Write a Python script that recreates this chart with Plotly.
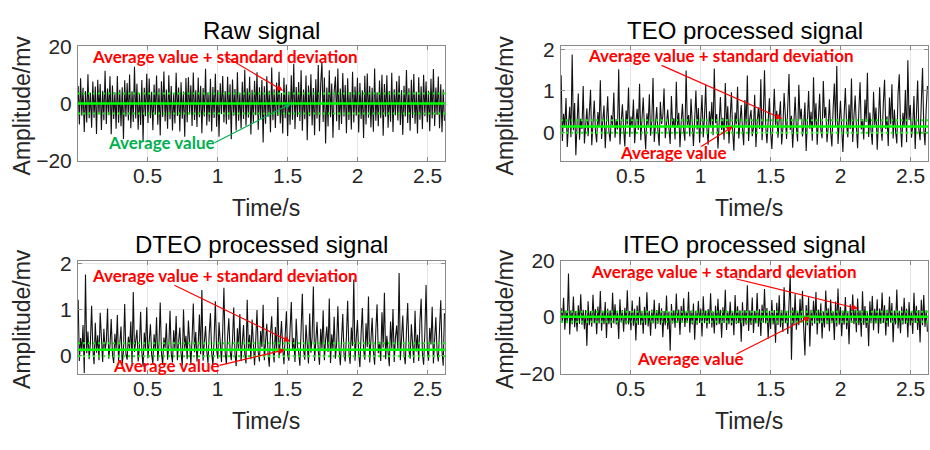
import numpy as np
import plotly.graph_objects as go
from plotly.subplots import make_subplots

# ---------------- data (mV) ----------------
raw_mv = [
    6.1, -7.3, 8.8, -4.2, 5.5, -9.9, 4.4, -6.6, 10.2, -5.1, 3.8, -8.4, 7.7, -4.9, 5.9, -10.6, 8.3, -3.7, 6.8, -9.2,
    4.5, -5.8, 11.4, -7.1, 5.2, -4.1, 9.5, -10.7, 6.3, -5.4, 3.9, -8.8, 9.6, -6.7, 4.8, -7.9, 5.7, -12.3, 8.1, -4.6,
    7.2, -5.9, 10.1, -8.6, 4.3, -6.4, 12.8, -5.2, 6.9, -9.1, 3.6, -7.5, 8.2, -13.1, 5.5, -4.4, 10.4, -6.8, 8.7, -5.1,
    4.1, -9.3, 6.6, -3.9, 9.8, -7.4, 5.3, -11.1, 7.8, -4.7, 11.2, -6.2, 4.9, -8.8, 9.9, -5.5, 6.1, -9.4, 3.7, -6.9,
    10.7, -4.3, 5.6, -9.7, 7.4, -5.3, 4.2, -11.6, 8.9, -6.5, 9.2, -3.8, 6.4, -7.8, 10.8, -5.7, 4.6, -8.2, 9.1, -4.8,
    6.2, -10.3, 5.4, -4.5, 12.1, -7.6, 3.9, -6.3, 8.6, -9.7, 5.8, -5.0, 10.4, -8.1, 4.7, -11.6, 7.1, -3.6, 9.6, -6.6,
    4.4, -7.2, 9.3, -5.6, 6.7, -12.4, 8.4, -4.2, 5.1, -9.4, 10.9, -6.0, 3.8, -8.7, 7.6, -5.4, 11.8, -7.7, 5.3, -4.9,
    9.3, -10.8, 4.8, -6.7, 7.9, -4.1, 10.9, -9.1, 5.7, -5.3, 8.2, -13.6, 6.0, -7.0, 9.5, -4.6, 4.5, -10.0, 12.6, -5.8,
    5.0, -8.5, 7.3, -4.3, 11.1, -6.9, 3.7, -10.4, 9.0, -5.1, 6.6, -11.3, 4.2, -7.4, 9.9, -5.6, 13.9, -8.9, 5.8, -4.7,
    7.5, -6.1, 11.6, -9.5, 4.9, -5.5, 9.8, -12.8, 6.3, -4.4, 10.2, -7.6, 5.4, -11.0, 8.5, -5.2, 13.4, -9.6, 6.9, 14.6,
    -6.4, 9.1, -13.9, 5.6, -8.0, 11.6, -4.8, 7.0, -11.9, 4.3, 9.4, -6.2, 12.2, -9.2, 5.2, -7.1, 10.6, -4.5, 6.5, -10.3,
    8.8, -5.7, 4.0, -9.0, 11.1, -6.6, 5.9, -4.2, 9.0, -10.1, 7.2, -5.4, 4.6, -12.0, 9.7, -7.3, 10.5, -4.9, 6.1, -8.3,
    5.5, -9.8, 12.2, -6.0, 3.9, -7.9, 8.0, -5.1, 10.0, -11.2, 6.8, -4.6, 9.9, -8.4, 4.4, -6.3, 10.7, -9.9, 5.0, -4.1,
    7.8, -5.9, 9.7, -7.5, 4.7, -10.9, 6.2, -4.5, 11.7, -6.8, 5.3, -9.5, 8.3, -5.0, 10.3, -7.0, 4.1, -10.4, 9.2, -5.6,
    6.0, -8.9, 10.0, -4.4, 7.7, -6.5, 4.5, -9.6, 8.6, -5.2, 12.0, -7.8, 5.6, -4.0, 9.4, -8.6, 6.7, -10.0, 4.9, -6.0,
]

teo_mv = [
    1.38, -0.21, 0.45, 0.12, 0.83, -0.35, 0.18, 0.62, -0.12, 1.88, 0.05, 0.71, -0.55, 0.26, 0.94, -0.18, 0.33, 0.08, 1.12, -0.27,
    0.15, 0.58, -0.09, 0.36, 1.03, -0.31, 0.21, 0.77, 0.04, -0.24, 0.49, 0.13, 1.26, -0.16, 0.29, 0.65, -0.38, 0.11, 0.87, 0.02,
    -0.22, 0.41, 0.17, 0.96, -0.13, 0.32, 0.07, 1.52, -0.29, 0.24, 0.68, 0.09, -0.34, 0.53, 0.19, 1.08, -0.11, 0.38, 0.14, 0.79,
    -0.26, 0.22, 0.57, 0.06, 1.17, -0.19, 0.31, 0.84, 0.10, -0.41, 0.46, 0.16, 0.92, -0.08, 0.27, 1.31, -0.23, 0.12, 0.61, 0.03,
    -0.32, 0.74, 0.20, 0.39, 1.06, -0.14, 0.25, 0.55, 0.08, -0.28, 0.88, 0.15, 0.34, -0.17, 1.22, 0.11, 0.47, -0.36, 0.23, 0.69,
    0.05, -0.20, 1.49, 0.18, 0.42, -0.10, 0.81, 0.13, -0.33, 0.30, 1.01, 0.07, 0.59, -0.25, 0.20, 0.90, -0.12, 0.36, 1.14, 0.09,
    -0.30, 0.51, 0.16, 0.73, -0.07, 1.54, 0.22, 0.44, -0.39, 0.14, 0.85, 0.06, 0.35, -0.18, 1.19, 0.10, 0.63, -0.27, 0.28, 0.97,
    0.04, -0.44, 0.48, 0.19, 1.10, -0.15, 0.26, 0.66, 0.09, -0.31, 0.78, 0.17, 1.37, -0.21, 0.33, 0.54, -0.09, 0.12, 0.91, -0.35,
    0.24, 0.60, 0.08, 1.28, -0.19, 0.37, 1.50, 0.14, -0.26, 0.45, 0.82, 0.03, -0.40, 0.29, 1.05, 0.18, 0.52, -0.13, 0.21, 0.75,
    -0.29, 0.11, 0.95, 0.27, -0.16, 0.64, 1.41, 0.06, 0.40, -0.37, 0.23, 0.86, 0.12, -0.22, 1.15, 0.31, 0.57, -0.10, 0.19, 0.72,
    -0.45, 0.28, 1.00, 0.09, 0.50, -0.20, 1.33, 0.15, 0.70, -0.30, 0.22, 0.93, 0.05, -0.14, 1.24, 0.35, 0.61, -0.24, 0.13, 0.80,
    0.02, -0.34, 0.56, 1.18, 0.16, 1.60, -0.28, 0.30, 0.76, 0.10, -0.47, 0.43, 1.07, 0.20, -0.12, 0.67, 0.08, 1.30, -0.23, 0.37,
    0.89, 0.14, -0.38, 0.52, 1.21, 0.07, 0.32, -0.17, 0.79, 0.25, 1.44, -0.11, 0.48, 0.04, -0.30, 0.98, 0.18, 0.60, -0.42, 0.26,
    1.09, 0.12, -0.20, 0.71, 1.27, 0.08, 0.39, -0.33, 0.84, 0.19, 1.16, -0.15, 0.55, 0.03, -0.27, 0.92, 1.40, 0.21, -0.36, 0.47,
    0.13, 1.02, -0.24, 1.74, 0.30, 0.66, -0.13, 0.17, 0.88, -0.40, 0.42, 1.25, 0.06, -0.19, 0.73, 1.55, 0.10, -0.31, 0.58, 1.12,
]

dteo_mv = [
    1.21, -0.12, 0.38, 0.09, 0.66, -0.38, 1.76, 0.05, 0.52, -0.08, 0.27, 1.08, 0.14, -0.19, 0.71, 0.06, 0.44, -0.10, 0.93, 0.17,
    -0.14, 0.58, 0.11, 0.31, 1.02, -0.07, 0.22, 0.79, 0.04, -0.16, 0.47, 0.12, 0.88, -0.11, 0.26, 0.63, -0.21, 0.10, 1.12, 0.03,
    -0.09, 0.41, 0.15, 0.74, -0.18, 1.38, 0.08, 0.29, 0.56, -0.13, 0.19, 0.95, 0.07, -0.24, 0.50, 0.13, 1.05, -0.06, 0.34, 0.68,
    0.02, -0.17, 0.46, 0.10, 0.83, -0.12, 0.25, 1.15, 0.06, -0.20, 0.39, 0.16, 0.70, -0.09, 0.21, 0.97, 0.04, -0.15, 0.55, 0.12,
    0.86, -0.10, 0.30, 0.61, 0.05, -0.22, 1.00, 0.14, 0.43, -0.08, 0.76, 0.09, -0.18, 0.35, 1.13, 0.07, 0.51, -0.13, 0.24, 0.89,
    0.03, 1.42, -0.11, 0.28, 0.64, 0.10, -0.16, 0.48, 0.92, 0.06, -0.20, 0.37, 1.18, 0.13, -0.07, 0.72, 0.20, -0.14, 0.54, 1.47,
    0.08, -0.19, 0.42, 0.81, 0.11, -0.10, 0.33, 1.04, 0.05, -0.23, 0.59, 0.15, 0.90, -0.12, 0.27, 0.66, 0.04, -0.17, 1.21, 0.10,
    0.45, -0.08, 0.78, 0.14, -0.21, 0.36, 0.99, 0.07, -0.13, 0.53, 0.18, 1.10, -0.10, 0.30, 0.69, 0.05, -0.24, 0.47, 0.85, 0.12,
    -0.15, 0.62, 0.09, 1.27, -0.06, 0.32, 0.75, 0.16, -0.19, 0.44, 0.96, 0.03, -0.11, 0.57, 1.16, 0.10, 0.38, -0.14, 0.80, 0.20,
    0.07, -0.22, 0.50, 1.34, 0.13, -0.09, 0.67, 0.25, -0.17, 0.91, 0.06, 0.40, 1.50, -0.12, 0.29, 0.73, 0.11, -0.20, 0.58, 0.15,
    0.98, -0.10, 0.35, 0.63, 0.08, 1.24, -0.16, 0.46, 0.12, 0.84, -0.07, 0.26, 1.07, 0.14, -0.21, 0.55, 0.90, 0.04, -0.13, 0.42,
    1.19, 0.09, -0.18, 0.61, 0.21, 1.65, -0.11, 0.37, 0.77, 0.06, -0.25, 0.49, 1.03, 0.13, -0.09, 0.70, 0.18, 1.28, -0.15, 0.33,
    0.82, 0.10, -0.20, 0.56, 1.11, 0.05, 0.30, -0.12, 0.94, 0.17, 1.36, -0.08, 0.43, 0.08, -0.23, 0.74, 0.15, 1.01, -0.14, 0.39,
    0.65, 0.11, 1.79, -0.10, 0.28, 0.87, 0.04, -0.19, 0.52, 1.14, 0.12, -0.07, 0.68, 0.20, -0.16, 0.97, 0.09, 0.45, -0.12, 0.76,
    1.23, 0.06, -0.20, 0.48, 1.53, 0.14, -0.11, 0.60, 0.24, 1.06, -0.17, 0.35, 0.83, 0.07, -0.13, 0.58, 1.20, 0.10, -0.22, 0.92,
]

iteo_mv = [
    3.2, -2.1, 6.8, -4.5, 2.3, -2.2, 15.4, -6.2, 2.4, -2.5, 7.3, -3.6, 2.1, -5.1, 4.2, -2.4, 8.1, -2.7, 2.6, -4.3,
    2.5, -10.2, 5.6, -2.9, 2.0, -3.4, 7.9, -2.2, 2.8, -6.1, 3.7, -2.3, 9.2, -4.8, 2.2, -2.5, 5.3, -7.4, 2.9, -2.5,
    2.4, -3.9, 8.6, -2.3, 4.5, -2.6, 2.2, -7.8, 6.3, -1.9, 2.5, -5.2, 3.3, -2.6, 9.5, -2.6, 2.1, -4.7, 5.9, -3.1,
    2.9, -8.3, 4.1, -2.8, 7.2, -2.8, 1.9, -5.9, 3.6, -2.8, 8.8, -3.3, 2.2, -6.6, 2.7, -2.3, 6.1, -4.1, 2.5, -2.4,
    5.0, -2.7, 3.1, -7.1, 2.1, -2.9, 7.6, -4.4, 2.0, -11.9, 4.6, -2.3, 2.4, -3.8, 8.3, -2.1, 2.7, -6.3, 3.9, -2.0,
    6.7, -3.5, 2.0, -2.0, 9.0, -5.5, 2.3, -2.6, 4.8, -8.0, 2.2, -2.7, 5.7, -2.1, 3.0, -6.9, 7.4, -2.2, 2.3, -4.0,
    2.8, -2.4, 8.4, -3.7, 2.0, -5.8, 4.0, -2.9, 6.5, -2.5, 2.6, -7.3, 3.5, -2.1, 9.7, -4.6, 2.1, -2.5, 5.4, -3.0,
    2.1, -6.4, 7.8, -2.4, 3.8, -2.2, 2.4, -8.7, 5.2, -3.2, 2.5, -2.7, 11.3, -4.9, 2.4, -2.8, 6.9, -5.6, 2.2, -2.3,
    8.5, -3.4, 2.8, -6.7, 4.4, -2.0, 9.9, -2.3, 3.2, -7.7, 2.2, -4.2, 6.0, -2.6, 2.5, -9.1, 5.1, -2.8, 7.7, -3.6,
    2.4, -5.3, 10.6, -2.2, 2.1, -6.0, 4.7, 15.2, -15.1, 3.4, -2.6, 8.2, -4.5, 2.2, -2.9, 6.4, -2.1, 9.3, -3.8, -13.6,
    4.3, -2.9, 7.0, -10.4, 2.6, -3.1, 5.8, -2.4, 8.9, -6.2, 2.7, -2.3, 4.9, -7.6, 2.0, -3.7, 9.4, -2.5, 3.1, -5.0,
    6.2, -2.2, 2.0, -8.1, 5.5, -3.3, 10.1, -2.7, 3.6, -6.8, 2.3, -2.7, 7.1, -4.3, 2.1, -9.6, 4.5, -2.0, 8.0, -2.5,
    2.7, -5.4, 6.6, -2.9, 2.4, -7.0, 9.1, -2.8, 3.9, -3.9, 2.1, -10.3, 5.6, -2.2, 7.5, -4.7, 2.9, -2.3, 6.3, -5.8,
    3.0, -2.4, 8.7, -2.1, 4.2, -6.5, 2.6, -3.4, 7.3, -2.0, 5.0, -8.9, 2.3, -2.6, 9.8, -4.0, 2.2, -5.7, 3.7, -2.6,
    6.8, -2.4, 2.9, -7.2, 5.3, -3.0, 2.0, -6.0, 8.6, -2.1, 4.0, -4.6, 2.5, -9.0, 6.1, -2.9, 7.8, -3.5, 2.4, -5.2,
]

# mean and standard deviation of each signal (mV)
raw_stats = (0.0, 3.5)
teo_stats = (0.14, 0.15)
dteo_stats = (0.125, 0.14)
iteo_stats = (0.1, 1.8)

titles = ["Raw signal", "TEO processed signal", "DTEO processed signal", "ITEO processed signal"]
x_ticks = [0.5, 1, 1.5, 2, 2.5]
y_ticks = [[-20, 0, 20], [0, 1, 2], [0, 1, 2], [-20, 0, 20]]
y_ranges = [[-20, 20], [-0.69, 2.08], [-0.39, 2.06], [-20, 20]]
t_start, t_end = 0.005, 2.62

signals = [raw_mv, teo_mv, dteo_mv, iteo_mv]
stats = [raw_stats, teo_stats, dteo_stats, iteo_stats]

# ---------------- figure ----------------
W, H = 930, 450
FONT = "Liberation Sans, Arial, sans-serif"
BOLD = "Lato, Calibri, sans-serif"
RED = "#ff0000"
DKGREEN = "#00b050"
LIME = "#00ff00"
AXC = "#8a8a8a"

fig = make_subplots(rows=2, cols=2)

# panel boxes in pixels: (left, right, top, bottom)
boxes = [(78, 445, 36, 157), (561, 928, 36, 157), (78, 445, 262, 381), (561, 928, 262, 381)]
cells = [(1, 1), (1, 2), (2, 1), (2, 2)]

for k, (sig, (mu, sd)) in enumerate(zip(signals, stats)):
    r, c = cells[k]
    t = np.linspace(t_start, t_end, len(sig))
    fig.add_trace(go.Scatter(x=t, y=sig, mode="lines",
                             line=dict(color="#111111", width=1.1),
                             showlegend=False, hoverinfo="skip"), row=r, col=c)
    fig.add_hline(y=mu, row=r, col=c, line=dict(color=LIME, width=2.4))
    fig.add_hline(y=mu + sd, row=r, col=c, line=dict(color=LIME, width=2, dash="2px,3px"))
    fig.add_hline(y=mu - sd, row=r, col=c, line=dict(color=LIME, width=2, dash="2px,3px"))

    l, rr, tp, bt = boxes[k]
    axis_common = dict(showline=True, mirror="ticks", linecolor=AXC, linewidth=1,
                       ticks="inside", ticklen=4, tickcolor=AXC,
                       showgrid=True, gridcolor="#e6e6e6", gridwidth=1, zeroline=False,
                       tickfont=dict(family=FONT, size=21, color="#262626"))
    fig.update_xaxes(domain=[l / W, rr / W], range=[0.004, 2.624], tickvals=x_ticks,
                     ticktext=[f"{v:g}" for v in x_ticks], ticklabelstandoff=-4,
                     row=r, col=c, **axis_common)
    fig.update_yaxes(domain=[1 - bt / H, 1 - tp / H], range=y_ranges[k], tickvals=y_ticks[k],
                     ticklabelstandoff=1, row=r, col=c, **axis_common)

    # panel title and axis titles
    cx = (l + rr) / 2
    fig.add_annotation(text=titles[k], xref="paper", yref="paper", x=cx / W, y=1 - (tp - 17) / H,
                       showarrow=False, xanchor="center", yanchor="middle",
                       font=dict(family=FONT, size=24, color="black"))
    fig.add_annotation(text="Time/s", xref="paper", yref="paper", x=(cx + 4) / W, y=1 - (bt + 50) / H,
                       showarrow=False, xanchor="center", yanchor="middle",
                       font=dict(family=FONT, size=23, color="#262626"))
    fig.add_annotation(text="Amplitude/mv", xref="paper", yref="paper", x=(l - 56) / W,
                       y=1 - ((tp + bt) / 2 + 2) / H, textangle=-90,
                       showarrow=False, xanchor="center", yanchor="middle",
                       font=dict(family=FONT, size=23, color="#262626"))

# callouts: (panel, text, colour, text position, arrow head, arrow tail offset px)
callouts = [
    (0, "Average value + standard deviation", RED, (1.05, 16.4), (1.467, 4.5), (-59, -35)),
    (0, "Average value", DKGREEN, (0.597, -13.4), (1.525, raw_stats[0]), (-78, 40)),
    (1, "Average value + standard deviation", RED, (1.143, 1.865), (1.582, 0.33), (-122, -54)),
    (1, "Average value", RED, (0.804, -0.49), (1.23, teo_stats[0]), (-33, 21)),
    (2, "Average value + standard deviation", RED, (1.05, 1.735), (1.517, 0.306), (-117, -57)),
    (2, "Average value", RED, (0.636, -0.21), (1.482, dteo_stats[0]), (-67, 16)),
    (3, "Average value + standard deviation", RED, (1.171, 16.0), (2.124, 3.0), (-123, -30)),
    (3, "Average value", RED, (0.928, -14.7), (1.781, iteo_stats[0]), (-75, 38)),
]
for k, txt, col, (tx, ty), (hx, hy), (ax, ay) in callouts:
    xr = "x" if k == 0 else f"x{k + 1}"
    yr = "y" if k == 0 else f"y{k + 1}"
    fig.add_annotation(text=f"<b>{txt}</b>", xref=xr, yref=yr, x=tx, y=ty, showarrow=False,
                       xanchor="center", yanchor="middle",
                       font=dict(family=BOLD, size=17, color=col))
    fig.add_annotation(text="", xref=xr, yref=yr, x=hx, y=hy, showarrow=True,
                       ax=ax, ay=ay, arrowhead=2, arrowsize=1, arrowwidth=1.2,
                       arrowcolor=col, standoff=0)

fig.update_layout(width=W, height=H, autosize=False, margin=dict(l=0, r=0, t=0, b=0),
                  paper_bgcolor="white", plot_bgcolor="white", showlegend=False)

fig.write_html("out.html")
